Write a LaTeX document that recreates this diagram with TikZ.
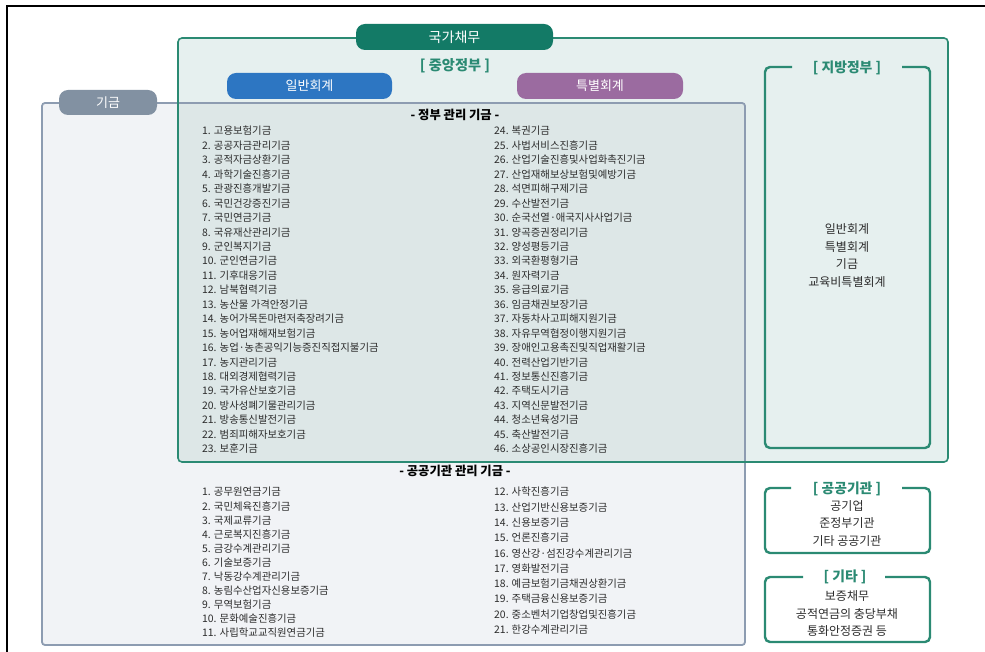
\documentclass[tikz,border=0pt]{standalone}
\usepackage{fontspec}
\setmainfont{Noto Sans CJK KR}
\definecolor{darkteal}{HTML}{137A66}
\definecolor{grn}{HTML}{2B8A73}
\definecolor{tealfill}{HTML}{E6F0EF}
\definecolor{overfill}{HTML}{DDE7E7}
\definecolor{grayfill}{HTML}{F1F3F6}
\definecolor{grayline}{HTML}{8D9CB1}
\definecolor{graypill}{HTML}{8291A2}
\definecolor{bluepill}{HTML}{2D76C2}
\definecolor{purplepill}{HTML}{9B6BA0}
\definecolor{txt}{HTML}{2C2C2C}
\tikzset{
  item/.style={anchor=west, inner sep=0pt, text=txt, font=\fontsize{10.4}{12}\selectfont},
  pill/.style={rounded corners=9pt, inner sep=0pt, text=white, minimum height=26pt},
  sectitle/.style={inner sep=0pt, text=black, font=\fontsize{12.3}{14}\selectfont\bfseries},
  brtitle/.style={inner sep=0pt, text=grn, font=\fontsize{13.8}{15}\selectfont\bfseries},
  brtext/.style={inner sep=0pt, text=txt, align=center, font=\fontsize{12}{17.5}\selectfont},
  brframe/.style={draw=grn, line width=2.4pt, rounded corners=5pt},
}
\begin{document}
\begin{tikzpicture}[x=1pt,y=-1pt]
\useasboundingbox (0,0) rectangle (985,652);
\fill[white] (0,0) rectangle (985,652);
% outer crop frame
\draw[black, line width=1.6pt] (7,652) -- (7,6) -- (985,6);
% fills
\fill[grayfill, rounded corners=3pt] (42,103) rectangle (745,645);
\fill[tealfill, rounded corners=4pt] (178,38) rectangle (948,462);
\fill[overfill] (178,103) rectangle (745,462);
% borders
\draw[grayline, line width=1.8pt, rounded corners=3pt] (42,103) rectangle (745,645);
\draw[grn, line width=1.6pt, rounded corners=4pt] (178,38) rectangle (948,462);
% pills
\node[pill, fill=darkteal, minimum width=197pt, font=\fontsize{14}{16}\selectfont] (debt) at (454.5,37) {국가채무};
\node[brtitle, font=\fontsize{14.2}{16}\selectfont\bfseries] (central) at (455,66) {[ 중앙정부 ]};
\node[pill, fill=bluepill, minimum width=165pt, font=\fontsize{13}{15}\selectfont] (general) at (309.5,86) {일반회계};
\node[pill, fill=purplepill, minimum width=166pt, font=\fontsize{13}{15}\selectfont] (special) at (600,86) {특별회계};
\node[pill, fill=graypill, minimum width=98pt, minimum height=25pt, font=\fontsize{13}{15}\selectfont] (fund) at (108,102.5) {기금};
% government-managed funds
\node[sectitle] (govtitle) at (455,115) {- 정부 관리 기금 -};
\foreach \t [count=\i] in {고용보험기금,공공자금관리기금,공적자금상환기금,과학기술진흥기금,관광진흥개발기금,국민건강증진기금,국민연금기금,국유재산관리기금,군인복지기금,군인연금기금,기후대응기금,남북협력기금,농산물 가격안정기금,농어가목돈마련저축장려기금,농어업재해재보험기금,농업·농촌공익기능증진직접지불기금,농지관리기금,대외경제협력기금,국가유산보호기금,방사성폐기물관리기금,방송통신발전기금,범죄피해자보호기금,보훈기금}
  \node[item] (g\i) at (202,{131+(\i-1)*14.45}) {\i. \t};
\foreach \t [count=\i from 24] in {복권기금,사법서비스진흥기금,산업기술진흥및사업화촉진기금,산업재해보상보험및예방기금,석면피해구제기금,수산발전기금,순국선열·애국지사사업기금,양곡증권정리기금,양성평등기금,외국환평형기금,원자력기금,응급의료기금,임금채권보장기금,자동차사고피해지원기금,자유무역협정이행지원기금,장애인고용촉진및직업재활기금,전력산업기반기금,정보통신진흥기금,주택도시기금,지역신문발전기금,청소년육성기금,축산발전기금,소상공인시장진흥기금}
  \node[item] (g\i) at (494,{131+(\i-24)*14.45}) {\i. \t};
% public-institution-managed funds
\node[sectitle] (pubtitle) at (455,471) {- 공공기관 관리 기금 -};
\foreach \t [count=\i] in {공무원연금기금,국민체육진흥기금,국제교류기금,근로복지진흥기금,금강수계관리기금,기술보증기금,낙동강수계관리기금,농림수산업자신용보증기금,무역보험기금,문화예술진흥기금,사립학교교직원연금기금}
  \node[item] (p\i) at (202,{492+(\i-1)*14.07}) {\i. \t};
\foreach \t [count=\i from 12] in {사학진흥기금,산업기반신용보증기금,신용보증기금,언론진흥기금,영산강·섬진강수계관리기금,영화발전기금,예금보험기금채권상환기금,주택금융신용보증기금,중소벤처기업창업및진흥기금,한강수계관리기금}
  \node[item] (p\i) at (494,{492+(\i-12)*15.3}) {\i. \t};
% local government
\draw[brframe] (792,67) -- (765,67) -- (765,448) -- (930,448) -- (930,67) -- (902,67);
\node[brtitle] (local) at (847,68) {[ 지방정부 ]};
\node[brtext] (localtxt) at (847,255.5) {일반회계\\특별회계\\기금\\교육비특별회계};
% public institutions
\draw[brframe] (791,488) -- (765,488) -- (765,553) -- (930,553) -- (930,488) -- (902,488);
\node[brtitle] (public) at (847,489) {[ 공공기관 ]};
\node[brtext] (publictxt) at (847,523.5) {공기업\\준정부기관\\기타 공공기관};
% others
\draw[brframe] (803,577) -- (765,577) -- (765,642) -- (930,642) -- (930,577) -- (885,577);
\node[brtitle] (other) at (845,577) {[ 기타 ]};
\node[brtext] (othertxt) at (847,614) {보증채무\\공적연금의 충당부채\\통화안정증권 등};
\end{tikzpicture}
\end{document}
